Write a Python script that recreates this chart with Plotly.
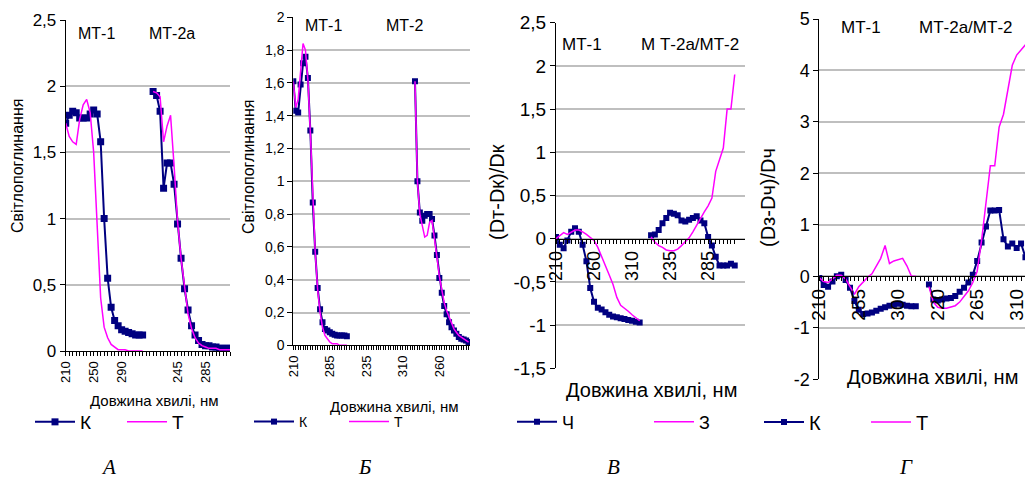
import plotly.graph_objects as go

W, H = 1027, 479
FONT = "Liberation Sans, Arial, sans-serif"
NAVY = "#000080"
MAGENTA = "#FF00FF"
GRID = "#BFBFBF"

# wavelength categories (nm) of each measured segment
WL = [210, 215, 220, 225, 230, 235, 240, 245, 250, 255, 260, 265,
      270, 275, 280, 285, 290, 295, 300, 305, 310, 315, 320]
GAP = ["", ""]

# ---------------- Panel A ----------------
A_K_MT1 = [1.72, 1.78, 1.81, 1.80, 1.76, 1.76, 1.76, 1.79, 1.82, 1.79, 1.58, 1.00,
           0.55, 0.33, 0.23, 0.19, 0.16, 0.15, 0.14, 0.13, 0.12, 0.12, 0.12]
A_T_MT1 = [1.72, 1.62, 1.58, 1.56, 1.75, 1.86, 1.90, 1.80, 1.50, 0.90, 0.40, 0.18,
           0.10, 0.05, 0.03, 0.01, 0.01, 0.01, 0.0, 0.0, 0.0, 0.0, 0.0]
A_K_MT2 = [1.96, 1.93, 1.81, 1.23, 1.42, 1.42, 1.26, 0.96, 0.70, 0.47, 0.31, 0.19,
           0.12, 0.08, 0.05, 0.04, 0.04, 0.03, 0.03, 0.02, 0.02, 0.02, 0.02]
A_T_MT2 = [1.96, 1.95, 1.92, 1.58, 1.70, 1.78, 1.40, 0.98, 0.70, 0.48, 0.28, 0.17,
           0.10, 0.06, 0.04, 0.03, 0.02, 0.02, 0.02, 0.01, 0.01, 0.01, 0.01]

# ---------------- Panel B ----------------
B_K_MT1 = [1.61, 1.43, 1.42, 1.59, 1.72, 1.76, 1.63, 1.31, 0.87, 0.57, 0.35, 0.22,
           0.14, 0.10, 0.09, 0.08, 0.07, 0.065, 0.06, 0.06, 0.06, 0.06, 0.055]
B_T_MT1 = [1.61, 1.45, 1.50, 1.68, 1.84, 1.80, 1.62, 1.30, 0.88, 0.57, 0.34, 0.20,
           0.11, 0.06, 0.04, 0.02, 0.01, 0.01, 0.01, 0.0, 0.0, 0.0, 0.0]
B_K_MT2 = [1.61, 1.00, 0.81, 0.76, 0.79, 0.80, 0.80, 0.77, 0.67, 0.55, 0.41, 0.32,
           0.24, 0.19, 0.14, 0.11, 0.09, 0.07, 0.05, 0.04, 0.035, 0.03, 0.02]
B_T_MT2 = [1.61, 1.00, 0.80, 0.72, 0.66, 0.67, 0.75, 0.76, 0.66, 0.54, 0.42, 0.33,
           0.26, 0.21, 0.17, 0.13, 0.10, 0.08, 0.06, 0.05, 0.04, 0.03, 0.02]

# ---------------- Panel C ----------------
C_K_MT1 = [0.02, -0.07, -0.11, -0.02, 0.08, 0.12, 0.08, -0.07, -0.26, -0.57, -0.73, -0.80,
           -0.82, -0.85, -0.88, -0.90, -0.91, -0.92, -0.93, -0.94, -0.95, -0.96, -0.97]
C_T_MT1 = [0.0, 0.03, 0.07, 0.05, 0.08, 0.10, 0.10, 0.08, 0.05, 0.01, -0.02, -0.10,
           -0.20, -0.30, -0.42, -0.53, -0.68, -0.77, -0.80, -0.84, -0.88, -0.92, -0.95]
C_K_MT2 = [0.04, 0.05, 0.10, 0.18, 0.24, 0.30, 0.29, 0.27, 0.21, 0.20, 0.22, 0.24,
           0.26, 0.21, 0.18, 0.02, -0.08, -0.21, -0.31, -0.31, -0.31, -0.29, -0.31]
C_T_MT2 = [0.02, -0.04, -0.08, -0.10, -0.13, -0.14, -0.14, -0.12, -0.08, -0.04, 0.01, 0.08,
           0.16, 0.24, 0.31, 0.38, 0.47, 0.78, 0.92, 1.05, 1.50, 1.50, 1.90]

# ---------------- Panel D ----------------
D_K_MT1 = [-0.03, -0.17, -0.20, -0.10, 0.00, 0.03, -0.07, -0.22, -0.48, -0.65, -0.73, -0.72,
           -0.70, -0.67, -0.63, -0.60, -0.57, -0.55, -0.53, -0.55, -0.57, -0.58, -0.58]
D_T_MT1 = [-0.03, -0.10, -0.12, -0.05, 0.02, 0.02, -0.05, -0.20, -0.35, -0.20, -0.10, -0.02,
           0.05, 0.20, 0.35, 0.60, 0.25, 0.30, 0.33, 0.35, 0.20, 0.0, 0.0]
D_K_MT2 = [-0.16, -0.45, -0.47, -0.45, -0.43, -0.42, -0.38, -0.30, -0.22, -0.12, 0.03, 0.30,
           0.66, 0.97, 1.28, 1.28, 1.29, 0.72, 0.58, 0.64, 0.55, 0.64, 0.37]
D_T_MT2 = [-0.20, -0.50, -0.60, -0.62, -0.62, -0.60, -0.57, -0.50, -0.40, -0.28, -0.12, 0.10,
           0.70, 1.45, 2.15, 2.15, 2.90, 3.15, 3.65, 4.10, 4.30, 4.40, 4.50]

# category axes (MT-1 segment, gap, MT-2 segment)
CATS_A = WL + GAP + WL
CATS_B = WL + GAP + WL + GAP + WL
CATS_C = WL + GAP + WL
CATS_D = WL + GAP + WL


def join(a, b, n_gap):
    return list(a) + [None] * n_gap + list(b)


def fmt(v):
    return f"{v:g}".replace(".", ",")


panels = [
    dict(cats=CATS_A, step=8, K=join(A_K_MT1, A_K_MT2, 2), T=join(A_T_MT1, A_T_MT2, 2),
         px=(65.7, 230), py=(20, 351), yr=(0, 2.5), dy=0.5, xr=(0, 47),
         xf=13, yf=17, ms=7, legend_names=("К", "Т")),
    dict(cats=CATS_B, step=15, K=join(B_K_MT1, B_K_MT2, 27), T=join(B_T_MT1, B_T_MT2, 27),
         px=(293.3, 470), py=(17.3, 345.3), yr=(0, 2), dy=0.2, xr=(0, 72.6),
         xf=13, yf=14, ms=6, legend_names=("К", "Т")),
    dict(cats=CATS_C, step=10, K=join(C_K_MT1, C_K_MT2, 2), T=join(C_T_MT1, C_T_MT2, 2),
         px=(556, 745), py=(22.7, 368.3), yr=(-1.5, 2.5), dy=0.5, xr=(0, 49.7),
         xf=18, yf=19, ms=6, legend_names=("Ч", "З")),
    dict(cats=CATS_D, step=9, K=join(D_K_MT1, D_K_MT2, 2), T=join(D_T_MT1, D_T_MT2, 2),
         px=(819.3, 1025), py=(19, 379.3), yr=(-2, 5), dy=1, xr=(0, 46.9),
         xf=19, yf=18, ms=6, legend_names=("К", "Т")),
]

# legend placement: (line start px, font size) for K and T of each panel
LEG = [((34, 19), (126, 19)), ((253, 14), (348, 14)),
       ((516, 18), (653, 18)), ((763, 20), (870, 20))]
LEG_Y = 422

fig = go.Figure()
layout = dict(width=W, height=H, margin=dict(l=0, r=0, t=0, b=0, pad=0, autoexpand=False),
              paper_bgcolor="white", plot_bgcolor="white",
              separators=", ", showlegend=True,
              font=dict(family=FONT, color="black"))

leg_i = 0
for i, p in enumerate(panels):
    n = "" if i == 0 else str(i + 1)
    xa, ya = "x" + n, "y" + n
    idx = list(range(len(p["cats"])))
    for s, key in enumerate(("K", "T")):
        leg_i += 1
        lname = "legend" if leg_i == 1 else f"legend{leg_i}"
        if key == "K":
            tr = go.Scatter(x=idx, y=p["K"], mode="lines+markers", name=p["legend_names"][0],
                            line=dict(color=NAVY, width=2),
                            marker=dict(symbol="square", size=p["ms"], color=NAVY),
                            xaxis=xa, yaxis=ya, legend=lname, connectgaps=False)
        else:
            tr = go.Scatter(x=idx, y=p["T"], mode="lines", name=p["legend_names"][1],
                            line=dict(color=MAGENTA, width=1.5),
                            xaxis=xa, yaxis=ya, legend=lname, connectgaps=False)
        fig.add_trace(tr)
        lx, lf = LEG[i][s]
        layout[lname] = dict(x=(lx - 4) / W, y=1 - LEG_Y / H, xanchor="left", yanchor="middle",
                             bgcolor="rgba(0,0,0,0)", borderwidth=0, itemwidth=40,
                             font=dict(family=FONT, size=lf, color="black"))

    x0, x1 = p["px"]
    yt, yb = p["py"]
    ydom = [1 - yb / H, 1 - yt / H]
    y0, y1 = p["yr"]
    ticktext = [str(c) if (k % p["step"] == 0) else "" for k, c in enumerate(p["cats"])]
    xax = dict(domain=[x0 / W, x1 / W], range=list(p["xr"]), tickmode="array",
               tickvals=idx, ticktext=ticktext, tickangle=-90, ticks="outside", ticklen=4,
               tickwidth=1, tickcolor="black", showline=True, linecolor="black", linewidth=1,
               showgrid=False, zeroline=False, automargin=False,
               tickfont=dict(family=FONT, size=p["xf"], color="black"))
    if y0 < 0:
        xax["anchor"] = "free"
        xax["position"] = ydom[0] + (0 - y0) / (y1 - y0) * (ydom[1] - ydom[0])
    else:
        xax["anchor"] = ya
    nt = int(round((y1 - y0) / p["dy"]))
    yvals = [round(y0 + k * p["dy"], 4) for k in range(nt + 1)]
    yax = dict(domain=ydom, range=[y0, y1], anchor=xa, tickmode="array", tickvals=yvals,
               ticktext=[fmt(v) for v in yvals], ticks="outside", ticklen=5, tickcolor="black",
               showline=True, linecolor="black", linewidth=1, showgrid=True, gridcolor=GRID,
               gridwidth=1.5, zeroline=False, automargin=False,
               tickfont=dict(family=FONT, size=p["yf"], color="black"))
    layout["xaxis" + n] = xax
    layout["yaxis" + n] = yax

anns = []


def ann(text, x, y, size, angle=0, family=FONT):
    anns.append(dict(text=text, x=x / W, y=1 - y / H, xref="paper", yref="paper",
                     xanchor="center", yanchor="middle", showarrow=False, textangle=angle,
                     font=dict(family=family, size=size, color="black")))


# segment labels
ann("МТ-1", 96, 33, 16)
ann("МТ-2а", 172, 33, 16)
ann("МТ-1", 323, 25, 16)
ann("МТ-2", 404, 25, 16)
ann("МТ-1", 582, 44, 17)
ann("М Т-2а/МТ-2", 690, 44, 17)
ann("МТ-1", 861, 28, 17)
ann("МТ-2а/МТ-2", 966, 28, 17)
# x titles
ann("Довжина хвилі, нм", 154, 400, 15)
ann("Довжина хвилі, нм", 394, 406, 15)
ann("Довжина хвилі, нм", 651, 390, 20)
ann("Довжина хвилі, нм", 932, 377, 20)
# y titles
ann("Світлопоглинання", 17, 166, 16, -90)
ann("Світлопоглинання", 248, 167, 16, -90)
ann("(Dт-Dк)/Dк", 497, 192, 20, -90)
ann("(Dз-Dч)/Dч", 768, 198, 20, -90)
# panel letters
SERIF = "Liberation Serif, Times New Roman, serif"
ann("<i>А</i>", 108, 467, 21, family=SERIF)
ann("<i>Б</i>", 364, 467, 21, family=SERIF)
ann("<i>В</i>", 613, 467, 21, family=SERIF)
ann("<i>Г</i>", 906, 467, 21, family=SERIF)

layout["annotations"] = anns
fig.update_layout(**layout)
fig.write_html("out.html", config={"displayModeBar": False},
               post_script="document.body.style.margin='0px';document.body.style.overflow='hidden';")
